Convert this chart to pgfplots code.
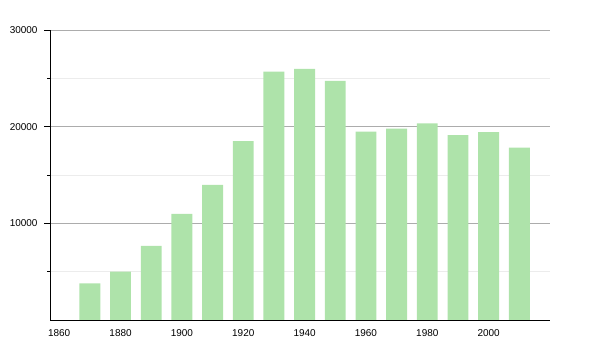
\documentclass[border=0pt]{standalone}
\usepackage{pgfplots}
\pgfplotsset{compat=1.18}
\usepackage{fontspec}
\setmainfont{Liberation Sans}
\definecolor{barg}{HTML}{AEE3AA}
\begin{document}
\begin{tikzpicture}
\path[use as bounding box] (-50bp,-30bp) rectangle (550bp,320bp);
\begin{axis}[
  at={(0,0)}, anchor=south west,
  scale only axis, width=500bp, height=290bp,
  xmin=1857, xmax=2020, ymin=0, ymax=30000,
  axis x line=bottom, axis y line=left,
  axis line style={-, black, line width=0.8pt},
  xtick={1860,1880,...,2000},
  ytick={10000,20000,30000},
  minor ytick={5000,15000,25000},
  major x tick style={draw=none},
  tick align=outside,
  major tick length=6bp, minor tick length=3bp,
  tick style={black, line width=0.5pt},
  ymajorgrids, yminorgrids,
  major grid style={gray!65, line width=0.6pt},
  minor grid style={gray!15, line width=0.6pt},
  scaled y ticks=false,
  /pgf/number format/1000 sep={},
  /pgf/number format/assume math mode=true,
  tick label style={font=\fontsize{10}{12}\selectfont, text=black},
  xticklabel style={yshift=0bp},
  yticklabel style={xshift=-3bp},
]
\addplot[ybar, fill=barg, draw=none, bar width=6.8] coordinates {
(1870,3800) (1880,5000) (1890,7670) (1900,10980) (1910,13990)
(1920,18510) (1930,25690) (1940,25970) (1950,24730) (1960,19480)
(1970,19790) (1980,20340) (1990,19130) (2000,19440) (2010,17820)
};
\end{axis}
\end{tikzpicture}
\end{document}
